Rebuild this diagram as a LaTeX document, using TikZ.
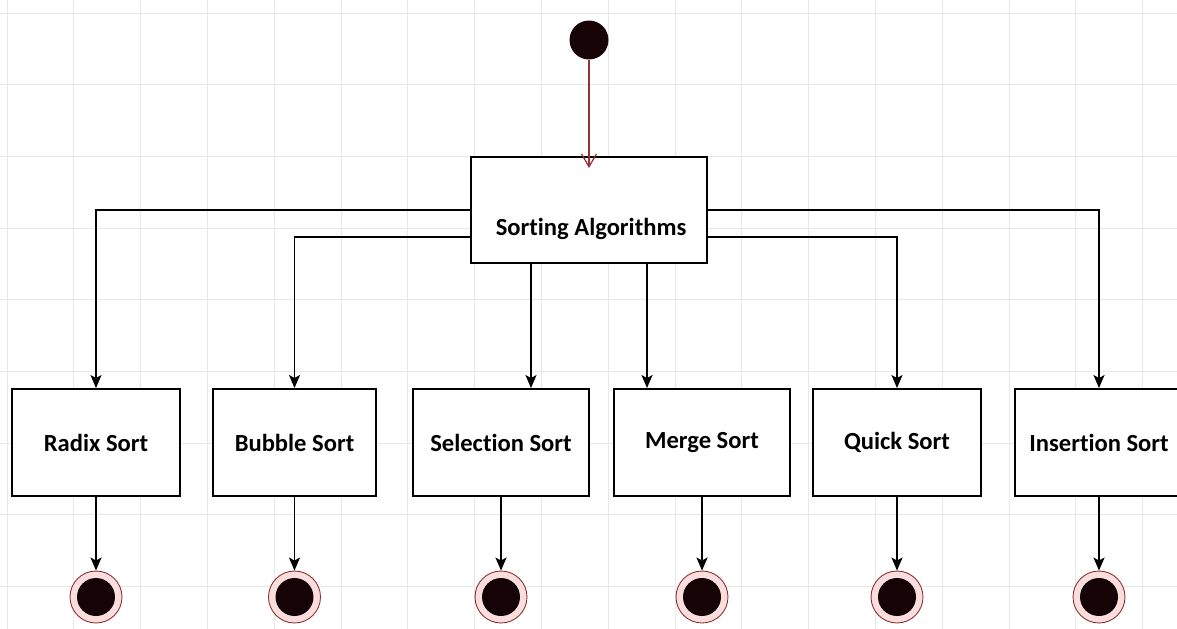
\documentclass[tikz,border=0pt]{standalone}
\usepackage{fontspec}
\setmainfont[Ligatures=NoCommon]{Carlito}
\usetikzlibrary{arrows.meta,positioning,calc}
\definecolor{startred}{RGB}{150,50,50}
\definecolor{dotfill}{RGB}{22,3,6}
\definecolor{ringpink}{RGB}{250,222,222}
\definecolor{ringred}{RGB}{140,45,45}
\definecolor{gridgray}{RGB}{232,232,232}

\begin{document}
\begin{tikzpicture}[x=0.02cm, y=-0.02cm,
  box/.style={draw, line width=1.1pt, fill=white, rectangle, inner sep=0pt,
    minimum height=2.14cm, font=\bfseries\fontsize{14}{16}\selectfont},
  flow/.style={line width=1.1pt, -{Stealth[length=2.6mm,width=2.2mm,inset=0.6mm]}},
  startdot/.style={circle, fill=dotfill, minimum size=0.78cm, inner sep=0pt},
  enddot/.style={circle, draw=ringred, line width=0.5pt, fill=ringpink,
    minimum size=1.04cm, inner sep=0pt,
    path picture={\fill[dotfill] (path picture bounding box.center) circle (0.38cm);}}]
  \useasboundingbox (0,0) rectangle (1177,629);
  \clip (0,0) rectangle (1177,629);

  % Background grid
  \foreach \gx in {0,...,17}
    \draw[gridgray, line width=0.5pt] ({7+66.8*\gx},0) -- ++(0,629);
  \foreach \gy in {0,...,8}
    \draw[gridgray, line width=0.5pt] (0,{13+71.7*\gy}) -- ++(1177,0);

  % Initial state and main box
  \node[startdot] (start) at (589,40) {};
  \node[box, minimum width=4.72cm, minimum height=2.12cm] (main) at (589,210) {};
  \node[font=\bfseries\fontsize{14}{16}\selectfont] (mainlab) at (591,229) {Sorting Algorithms};
  \draw[startred, line width=0.7pt, -{Straight Barb[length=2.6mm,width=3mm]},
        shorten >=-0.24cm] (start) -- (main.north);

  % Algorithms with their final states
  \foreach \name/\x/\w/\lab in {
    radix/96/3.36/Radix Sort, bubble/294.5/3.26/Bubble Sort,
    selection/501/3.52/Selection Sort, merge/702/3.52/Merge Sort,
    quick/897/3.36/Quick Sort, insertion/1099/3.36/Insertion Sort} {
    \node[box, minimum width=\w cm] (\name) at (\x,442.5) {\lab};
    \node[enddot] (\name-end) at (\x,597) {};
    \draw[flow] (\name) -- (\name-end);
  }

  % Branches from the main box
  \draw[flow] (main.west) -| (radix.north);
  \draw[flow] ([yshift=-0.54cm]main.west) -| (bubble.north);
  \draw[flow] ([xshift=-1.16cm]main.south) -- ([xshift=0.6cm]selection.north);
  \draw[flow] ([xshift=1.16cm]main.south) -- ([xshift=-1.1cm]merge.north);
  \draw[flow] ([yshift=-0.54cm]main.east) -| (quick.north);
  \draw[flow] (main.east) -| (insertion.north);
\end{tikzpicture}
\end{document}
